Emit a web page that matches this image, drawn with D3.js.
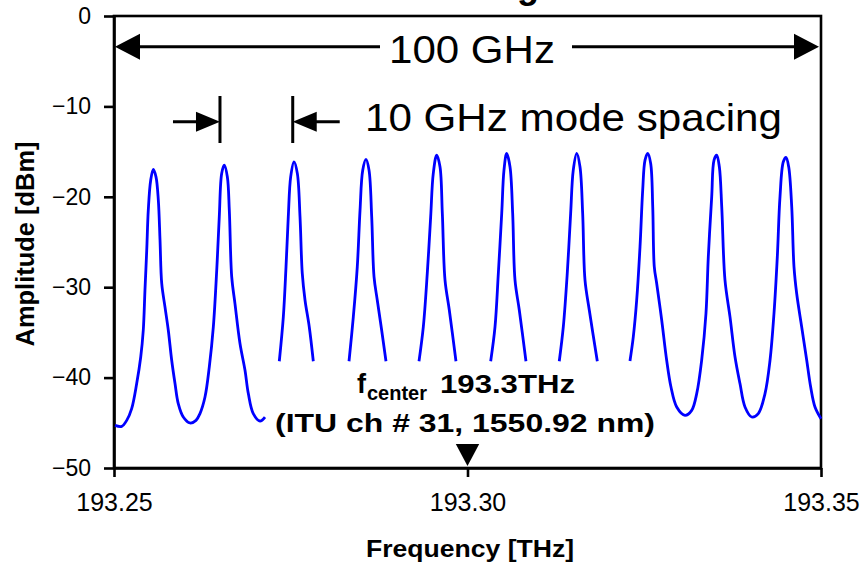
<!DOCTYPE html>
<html>
<head>
<meta charset="utf-8">
<script src="https://cdn.jsdelivr.net/npm/d3@7"></script>
<style>
  body { margin: 0; background: #fff; }
  svg { display: block; font-family: "Liberation Sans", Arial, sans-serif; }
</style>
</head>
<body>
<svg id="chart" width="865" height="566"></svg>
<script>
// spectrum trace: [frequency THz, amplitude dBm]
// lowest two modes, drawn down to the noise floor
const traceLow = [
  [193.25014, -45.28], [193.25109, -45.39], [193.25180, -44.73], [193.25250, -43.43],
  [193.25321, -40.66], [193.25378, -37.72], [193.25414, -34.76], [193.25438, -30.33],
  [193.25463, -25.91], [193.25485, -21.48], [193.25519, -18.16], [193.25556, -16.97],
  [193.25594, -17.79], [193.25627, -20.37], [193.25651, -24.80], [193.25675, -29.59],
  [193.25721, -32.18], [193.25768, -34.76], [193.25816, -38.08], [193.25863, -40.66],
  [193.25909, -42.88], [193.25980, -44.36], [193.26075, -45.02], [193.26160, -44.73],
  [193.26216, -43.98], [193.26287, -42.15], [193.26348, -38.82], [193.26405, -34.40],
  [193.26453, -28.12], [193.26489, -22.22], [193.26523, -17.41], [193.26560, -16.50],
  [193.26603, -17.79], [193.26631, -21.48], [193.26665, -28.86], [193.26711, -31.81],
  [193.26782, -36.23], [193.26853, -39.19], [193.26900, -41.77], [193.26970, -43.98],
  [193.27065, -44.80], [193.27136, -44.36]
];

// middle modes, only the part above the annotation is shown
const traceModes = [
  [[193.27338, -38.19], [193.27395, -33.29], [193.27433, -27.75], [193.27465, -22.22],
   [193.27499, -17.79], [193.27546, -16.13], [193.27593, -17.41], [193.27631, -22.22],
   [193.27663, -28.48], [193.27702, -31.44], [193.27762, -34.40], [193.27819, -38.19]],
  [[193.28324, -38.19], [193.28385, -33.29], [193.28441, -27.75], [193.28480, -21.48],
   [193.28518, -17.05], [193.28564, -15.86], [193.28607, -17.05], [193.28645, -22.22],
   [193.28678, -28.86], [193.28724, -31.44], [193.28786, -34.76], [193.28847, -38.19]],
  [[193.29314, -38.19], [193.29375, -34.40], [193.29431, -28.48], [193.29479, -22.22],
   [193.29516, -17.41], [193.29564, -15.39], [193.29611, -16.68], [193.29644, -21.84],
   [193.29682, -29.23], [193.29743, -32.55], [193.29837, -38.19]],
  [[193.30328, -38.19], [193.30389, -34.40], [193.30436, -28.48], [193.30484, -21.84],
   [193.30516, -17.05], [193.30554, -15.20], [193.30601, -16.68], [193.30639, -21.84],
   [193.30672, -29.23], [193.30733, -32.55], [193.30827, -38.19]],
  [[193.31298, -38.19], [193.31355, -34.40], [193.31411, -28.48], [193.31459, -21.84],
   [193.31496, -17.05], [193.31545, -15.20], [193.31591, -16.68], [193.31629, -21.84],
   [193.31662, -29.23], [193.31723, -32.55], [193.31836, -38.19]]
];

// highest three modes
const traceHigh = [
  [193.32298, -38.16], [193.32345, -35.50], [193.32393, -31.44], [193.32440, -25.54],
  [193.32478, -19.26], [193.32511, -15.94], [193.32549, -15.20], [193.32591, -16.31],
  [193.32620, -21.11], [193.32642, -27.75], [193.32676, -29.59], [193.32747, -33.65],
  [193.32817, -38.08], [193.32878, -41.04], [193.32959, -43.25], [193.33076, -44.17],
  [193.33171, -43.62], [193.33242, -41.77], [193.33312, -38.08], [193.33373, -32.91],
  [193.33406, -26.65], [193.33454, -20.00], [193.33487, -15.94], [193.33525, -15.39],
  [193.33562, -16.68], [193.33596, -21.11], [193.33642, -29.23], [193.33713, -33.29],
  [193.33784, -37.72], [193.33854, -40.66], [193.33925, -43.25], [193.34020, -44.36],
  [193.34113, -43.98], [193.34208, -41.77], [193.34279, -38.08], [193.34335, -32.91],
  [193.34382, -26.65], [193.34420, -20.00], [193.34467, -16.13], [193.34505, -15.64],
  [193.34543, -16.68], [193.34586, -21.11], [193.34618, -27.75], [193.34656, -30.70],
  [193.34727, -34.40], [193.34798, -38.08], [193.34854, -41.04], [193.34915, -43.25],
  [193.35000, -44.54]
];

const yTicks = [0, -10, -20, -30, -40, -50];
const xTicks = [193.25, 193.30, 193.35];
const fCenter = 193.30;
const spanEnds = [193.25, 193.35];          // 100 GHz arrow
const spacingBars = [193.26499, 193.27528]; // 10 GHz bars
const spanLevel = -3.4, spacingLevel = -11.7;

// set the dimensions and margins of the graph
const margin = {top: 16, right: 44, bottom: 98, left: 114},
      width = 865 - margin.left - margin.right,
      height = 566 - margin.top - margin.bottom;

const x = d3.scaleLinear().domain([193.25, 193.35]).range([0, width]);
const y = d3.scaleLinear().domain([-50, 0]).range([height, 0]);

const svg = d3.select("#chart");

// title, mostly above the picture
svg.append("text")
  .attr("x", 539).attr("y", -2.5)
  .attr("text-anchor", "end")
  .attr("font-size", 36).attr("font-weight", "bold")
  .text("Harmonic Mode-Locking");

const g = svg.append("g")
  .attr("transform", "translate(" + margin.left + "," + margin.top + ")");

// axes
const xAxis = g.append("g")
  .attr("transform", "translate(0," + height + ")")
  .call(d3.axisBottom(x).tickValues(xTicks).tickFormat(d3.format(".2f"))
        .tickSize(9).tickSizeOuter(0).tickPadding(16));

const yAxis = g.append("g")
  .call(d3.axisLeft(y).tickValues(yTicks).tickFormat(d3.format("d"))
        .tickSize(10).tickSizeOuter(0).tickPadding(13));

[xAxis, yAxis].forEach(a => {
  a.select(".domain").attr("stroke", "#000").attr("stroke-width", 2.6);
  a.selectAll(".tick line").attr("stroke", "#000").attr("stroke-width", 2.6);
  a.selectAll(".tick text").attr("fill", "#000")
    .attr("font-family", "'Liberation Sans', Arial, sans-serif");
});
xAxis.selectAll(".tick text").attr("font-size", 25);
yAxis.selectAll(".tick text").attr("font-size", 23);

// frame
g.append("rect")
  .attr("width", width).attr("height", height)
  .attr("fill", "none").attr("stroke", "#000").attr("stroke-width", 2.6);

// spectrum
const line = d3.line()
  .x(d => x(d[0]))
  .y(d => y(d[1]))
  .curve(d3.curveCatmullRom.alpha(0.5));

[traceLow].concat(traceModes, [traceHigh]).forEach(seg => {
  g.append("path")
    .datum(seg)
    .attr("fill", "none")
    .attr("stroke", "#0000FF")
    .attr("stroke-width", 2.8)
    .attr("stroke-linejoin", "round")
    .attr("d", line);
});

// 100 GHz span arrow
const ySpan = y(spanLevel);
const xs0 = x(spanEnds[0]) + 1, xs1 = x(spanEnds[1]) - 2;
g.append("path")
  .attr("d", `M${xs0 + 20},${ySpan}H${380 - margin.left}M${572 - margin.left},${ySpan}H${xs1 - 20}`)
  .attr("stroke", "#000").attr("stroke-width", 3.2);
g.append("path")
  .attr("d", `M${xs0},${ySpan}L${xs0 + 25},${ySpan - 13}V${ySpan + 13}Z` +
             `M${xs1},${ySpan}L${xs1 - 25},${ySpan - 13}V${ySpan + 13}Z`)
  .attr("fill", "#000");
svg.append("text")
  .attr("x", 389).attr("y", 63)
  .attr("font-size", 39)
  .attr("textLength", 166).attr("lengthAdjust", "spacingAndGlyphs")
  .text("100 GHz");

// 10 GHz mode spacing marks
const ySp = y(spacingLevel);
const b0 = x(spacingBars[0]), b1 = x(spacingBars[1]);
g.append("path")
  .attr("d", spacingBars.map(f => `M${x(f)},${y(-8.86)}V${y(-14.06)}`).join("") +
             `M${b0 - 47},${ySp}H${b0 - 20}M${b1 + 20},${ySp}H${b1 + 47}`)
  .attr("stroke", "#000").attr("stroke-width", 3);
g.append("path")
  .attr("d", `M${b0},${ySp}L${b0 - 24},${ySp - 10}V${ySp + 10}Z` +
             `M${b1},${ySp}L${b1 + 24},${ySp - 10}V${ySp + 10}Z`)
  .attr("fill", "#000");
svg.append("text")
  .attr("x", 365).attr("y", 131)
  .attr("font-size", 39)
  .attr("textLength", 417).attr("lengthAdjust", "spacingAndGlyphs")
  .text("10 GHz mode spacing");

// centre frequency annotation
const cx = x(fCenter);
g.append("path")
  .attr("d", `M${cx},${height - 2}L${cx - 11.7},${height - 24}H${cx + 11.7}Z`)
  .attr("fill", "#000");
const note = svg.append("g").attr("font-weight", "bold");
note.append("text").attr("x", 357).attr("y", 393).attr("font-size", 27).text("f");
note.append("text").attr("x", 367).attr("y", 400).attr("font-size", 20)
  .attr("textLength", 60).attr("lengthAdjust", "spacingAndGlyphs").text("center");
note.append("text").attr("x", 440).attr("y", 393).attr("font-size", 26)
  .attr("textLength", 135).attr("lengthAdjust", "spacingAndGlyphs").text("193.3THz");
note.append("text").attr("x", 275).attr("y", 431.5).attr("font-size", 26)
  .attr("textLength", 380).attr("lengthAdjust", "spacingAndGlyphs")
  .text("(ITU ch # 31, 1550.92 nm)");

// axis titles
svg.append("text")
  .attr("x", 470).attr("y", 557)
  .attr("text-anchor", "middle")
  .attr("font-size", 24.5).attr("font-weight", "bold")
  .attr("textLength", 208).attr("lengthAdjust", "spacingAndGlyphs")
  .text("Frequency [THz]");

svg.append("text")
  .attr("transform", "translate(34,244) rotate(-90)")
  .attr("text-anchor", "middle")
  .attr("font-size", 25).attr("font-weight", "bold")
  .attr("textLength", 205).attr("lengthAdjust", "spacingAndGlyphs")
  .text("Amplitude [dBm]");
</script>
</body>
</html>
